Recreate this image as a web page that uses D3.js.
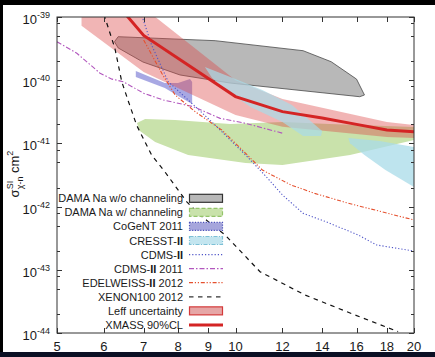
<!DOCTYPE html>
<html><head><meta charset="utf-8">
<script src="https://cdn.jsdelivr.net/npm/d3@7"></script>
<style>
html,body{margin:0;padding:0;background:#000;}
svg{display:block;}
text{font-family:"Liberation Sans",Arial,sans-serif;fill:#1a1a1a;}
</style></head><body>
<svg id="chart" width="435" height="357"></svg>
<script>
// axis ticks
const massTicks = [5, 6, 7, 8, 9, 10, 12, 14, 16, 18, 20];
const decadeExponents = [-44, -43, -42, -41, -40, -39];
const minorMultiples = [2, 5, 8];

// XMASS 90% CL limit and Leff uncertainty band
const xmassMass = [6, 7, 10, 12, 14, 16, 18, 20];
const xmassSigma = [2.8e-39, 5.1e-40, 5.5e-41, 3.18e-41, 2.52e-41, 2.0e-41, 1.63e-41, 1.53e-41];
const leffMass = [5.5, 7, 10, 12, 18, 20];
const leffLow = [7.3e-40, 1.35e-40, 2.81e-41, 1.84e-41, 1.26e-41, 1.22e-41];
const leffHigh = [6e-39, 1.4e-39, 1.0e-40, 5.05e-41, 2.18e-41, 1.95e-41];

// DAMA Na without channeling (closed contour)
const damaNoChanMass = [6.25, 6.34, 9.24, 13.0, 14.5, 16.0, 16.5, 16.2, 9.79, 8.06, 6.98, 6.34];
const damaNoChanSigma = [4.06e-40, 4.88e-40, 4.22e-40, 2.93e-40, 1.96e-40, 1.04e-40, 5.83e-41, 5.48e-41, 9.03e-41, 1.21e-40, 1.94e-40, 3.24e-40];

// DAMA Na with channeling (closed contour)
const damaChanMass = [6.82, 7.04, 7.91, 9.79, 12.0, 14.4, 20, 20, 15.6, 12.0, 10.4, 8.32, 7.32, 6.90];
const damaChanSigma = [2.1e-41, 2.43e-41, 2.34e-41, 2.03e-41, 2.18e-41, 2.03e-41, 1.82e-41, 1.13e-41, 6.55e-42, 4.55e-42, 4.9e-42, 6.55e-42, 1.05e-41, 1.57e-41];

// CoGeNT 2011 (closed contour)
const cogentMass = [6.79, 7.60, 8.00, 8.38, 8.45, 8.45, 8.06, 7.60, 6.79];
const cogentSigma = [1.40e-40, 9.03e-41, 9.03e-41, 1.04e-40, 9.37e-41, 4.2e-41, 5.42e-41, 7.53e-41, 1.12e-40];

// CRESST-II, two regions
const cresstAMass = [8.88, 9.90, 11.1, 12.45, 14.0, 13.94, 13.0, 12.0, 10.6, 9.79, 9.13];
const cresstASigma = [1.62e-40, 1.08e-40, 7.0e-41, 4.06e-41, 1.57e-41, 1.31e-41, 1.31e-41, 2.18e-41, 3.77e-41, 6.27e-41, 1.08e-40];
const cresstBMass = [15.5, 17.5, 20, 20, 17.9, 16.5, 15.6];
const cresstBSigma = [1.22e-41, 1.09e-41, 8.77e-42, 2.04e-42, 3.79e-42, 6.55e-42, 1.01e-41];

// CDMS-II
const cdmsMass = [6.9, 7.22, 7.70, 8.44, 9.24, 10.4, 11.2, 12.0, 13.0, 14.2, 16.1, 17.3, 20];
const cdmsSigma = [1.3e-39, 3.6e-40, 9.46e-41, 4.31e-41, 1.95e-41, 6.55e-42, 3.16e-42, 1.53e-42, 7.83e-43, 5.77e-43, 3.56e-43, 2.47e-43, 1.98e-43];

// CDMS-II 2011 (low threshold)
const cdms11Mass = [5, 5.40, 5.91, 6.19, 6.47, 7.0, 7.56, 8.49, 9.42, 10.4, 12.0];
const cdms11Sigma = [4.06e-40, 2.67e-40, 1.29e-40, 1.04e-40, 9.46e-41, 6.21e-41, 4.86e-41, 3.81e-41, 2.49e-41, 2.08e-41, 1.45e-41];

// EDELWEISS-II 2012
const edwMass = [7.0, 7.51, 7.91, 8.55, 9.48, 10.2, 11.1, 12.4, 13.6, 15.5, 20];
const edwSigma = [4.33e-40, 1.29e-40, 5.83e-41, 3.18e-41, 1.63e-41, 8.35e-42, 3.79e-42, 2.2e-42, 1.62e-42, 1.13e-42, 6.14e-43];

// XENON100 2012
const xenonMass = [6.0, 6.26, 6.43, 6.60, 6.81, 7.22, 7.60, 8.27, 8.71, 9.60, 11.0, 13.1, 15.9, 18.8];
const xenonSigma = [1.1e-39, 3.2e-40, 9.46e-41, 4.57e-41, 1.95e-41, 6.55e-42, 3.56e-42, 1.2e-42, 7.36e-43, 3.56e-43, 9.33e-44, 3.99e-44, 1.93e-44, 1.05e-44];

const legendLabels = [
  ["DAMA Na w/o channeling"],
  ["DAMA Na w/ channeling"],
  ["CoGeNT 2011"],
  ["CRESST-", "II"],
  ["CDMS-", "II"],
  ["CDMS-", "II", " 2011"],
  ["EDELWEISS-", "II", " 2012"],
  ["XENON100 2012"],
  ["Leff uncertainty"],
  ["XMASS 90%CL"]
];

const svg = d3.select("#chart");
const W = 435, H = 357;

// page frame
svg.append("rect").attr("width", W).attr("height", H).attr("fill", "#000");
svg.append("rect").attr("x", 0).attr("y", 352).attr("width", W).attr("height", 5).attr("fill", "#0b1024");
svg.append("rect").attr("x", 3).attr("y", 5).attr("width", W - 3).attr("height", 347).attr("fill", "#fff");

const pL = 57, pR = 414, pT = 17, pB = 333;
const x = d3.scaleLog().domain([5, 20]).range([pL, pR]);
const y = d3.scaleLog().domain([1e-44, 1e-39]).range([pB, pT]);

svg.append("clipPath").attr("id", "plotclip")
  .append("rect").attr("x", pL).attr("y", pT).attr("width", pR - pL).attr("height", pB - pT);

const plot = svg.append("g").attr("clip-path", "url(#plotclip)");

const zip = (ms, ss) => ms.map((m, i) => [m, ss[i]]);
const line = d3.line().x(d => x(d[0])).y(d => y(d[1]));
const closed = d3.line().x(d => x(d[0])).y(d => y(d[1])).curve(d3.curveLinearClosed);

// regions
plot.append("path").attr("d", closed(zip(damaNoChanMass, damaNoChanSigma)))
  .attr("fill", "#b8b8b8").attr("stroke", "#4a4a4a").attr("stroke-width", 0.8);
plot.append("path").attr("d", closed(zip(damaChanMass, damaChanSigma)))
  .attr("fill", "#c9e2ab");
plot.append("path").attr("d", closed(zip(cogentMass, cogentSigma)))
  .attr("fill", "#9e9ee0").attr("fill-opacity", 0.9);

// Leff band
const area = d3.area().x(d => x(d.m)).y0(d => y(d.lo)).y1(d => y(d.hi));
plot.append("path")
  .attr("d", area(leffMass.map((m, i) => ({m, lo: leffLow[i], hi: leffHigh[i]}))))
  .attr("fill", "#dc4646").attr("fill-opacity", 0.4);

// CRESST-II drawn over the band
plot.append("path").attr("d", closed(zip(cresstAMass, cresstASigma)))
  .attr("fill", "#a8dbe8").attr("fill-opacity", 0.7);
plot.append("path").attr("d", closed(zip(cresstBMass, cresstBSigma)))
  .attr("fill", "#a8dbe8").attr("fill-opacity", 0.75);

// limit curves
const curves = [
  {m: cdmsMass, s: cdmsSigma, color: "#4f55c8", dash: "1.2,2", w: 1.1},
  {m: cdms11Mass, s: cdms11Sigma, color: "#b257be", dash: "5,2,1.5,2", w: 1.1},
  {m: edwMass, s: edwSigma, color: "#e5502e", dash: "4,1.8,1.2,1.8,1.2,1.8", w: 1.1},
  {m: xenonMass, s: xenonSigma, color: "#111", dash: "4.5,4.5", w: 1.2},
  {m: xmassMass, s: xmassSigma, color: "#d42424", dash: null, w: 3}
];
curves.forEach(c => {
  plot.append("path").attr("d", line(zip(c.m, c.s)))
    .attr("fill", "none").attr("stroke", c.color).attr("stroke-width", c.w)
    .attr("stroke-dasharray", c.dash);
});

// axes frame and ticks
const ax = svg.append("g").attr("stroke", "#333").attr("stroke-width", 1);
ax.append("rect").attr("x", pL).attr("y", pT).attr("width", pR - pL).attr("height", pB - pT)
  .attr("fill", "none");
massTicks.forEach(m => {
  const px = Math.round(x(m)) + 0.5;
  ax.append("line").attr("x1", px).attr("x2", px).attr("y1", pB).attr("y2", pB - 5);
  ax.append("line").attr("x1", px).attr("x2", px).attr("y1", pT).attr("y2", pT + 5);
});
decadeExponents.forEach(e => {
  const py = Math.round(y(Math.pow(10, e))) + 0.5;
  ax.append("line").attr("x1", pL).attr("x2", pL + 5).attr("y1", py).attr("y2", py);
  ax.append("line").attr("x1", pR).attr("x2", pR - 5).attr("y1", py).attr("y2", py);
  if (e < -39) {
    minorMultiples.forEach(k => {
      const pm = Math.round(y(k * Math.pow(10, e))) + 0.5;
      ax.append("line").attr("x1", pL).attr("x2", pL + 3).attr("y1", pm).attr("y2", pm);
      ax.append("line").attr("x1", pR).attr("x2", pR - 3).attr("y1", pm).attr("y2", pm);
    });
  }
});

// tick labels
massTicks.forEach(m => {
  svg.append("text").attr("x", x(m)).attr("y", 351).attr("text-anchor", "middle")
    .attr("font-size", 13).text(m);
});
decadeExponents.forEach(e => {
  const t = svg.append("text").attr("x", 50).attr("y", y(Math.pow(10, e)) + 7)
    .attr("text-anchor", "end").attr("font-size", 13);
  t.append("tspan").text("10");
  t.append("tspan").attr("dy", -6).attr("font-size", 9).text(String(e));
});

// y axis title
const yt = svg.append("text").attr("transform", "translate(19,174) rotate(-90)")
  .attr("text-anchor", "middle").attr("font-size", 13);
yt.append("tspan").text("σ");
yt.append("tspan").attr("font-size", 9).attr("dy", -6).text("SI");
yt.append("tspan").attr("font-size", 9).attr("dx", -8.5).attr("dy", 10).text("χ-n");
yt.append("tspan").attr("dy", -4).text(" cm");
yt.append("tspan").attr("font-size", 9).attr("dy", -6).text("2");

// legend
const lg = svg.append("g");
const rowY = i => 198.3 + i * 14.07;
const sx0 = 189, sx1 = 222;
legendLabels.forEach((parts, i) => {
  const t = lg.append("text").attr("x", 183).attr("y", rowY(i) + 4)
    .attr("text-anchor", "end").attr("font-size", 11);
  parts.forEach(p => t.append("tspan").attr("font-weight", p === "II" ? "bold" : null).text(p));
});
const box = (i, fill, stroke, dash, op) => lg.append("rect")
  .attr("x", sx0 + 0.5).attr("y", rowY(i) - 4).attr("width", sx1 - sx0).attr("height", 8)
  .attr("fill", fill).attr("fill-opacity", op || 1).attr("stroke", stroke).attr("stroke-width", 1.2)
  .attr("stroke-dasharray", dash);
box(0, "#b8b8b8", "#333", null);
box(1, "#c9e2ab", "#94c46a", "4,2");
box(2, "#a6a6dc", "#4a50b8", "1.2,1.5");
box(3, "#c3e5ef", "#7cc0d6", "4,1.5,1,1.5");
const seg = (i, color, dash, w) => lg.append("line")
  .attr("x1", sx0).attr("x2", sx1 + 1).attr("y1", rowY(i)).attr("y2", rowY(i))
  .attr("stroke", color).attr("stroke-width", w).attr("stroke-dasharray", dash);
seg(4, "#4f55c8", "1.2,2", 1.1);
seg(5, "#b257be", "5,2,1.5,2", 1.3);
seg(6, "#e5502e", "4,1.8,1.2,1.8,1.2,1.8", 1.3);
seg(7, "#333", "4.5,4.5", 1.2);
box(8, "#e6a6a6", "#d43a3a", null);
seg(9, "#d42424", null, 3);
</script>
</body></html>
